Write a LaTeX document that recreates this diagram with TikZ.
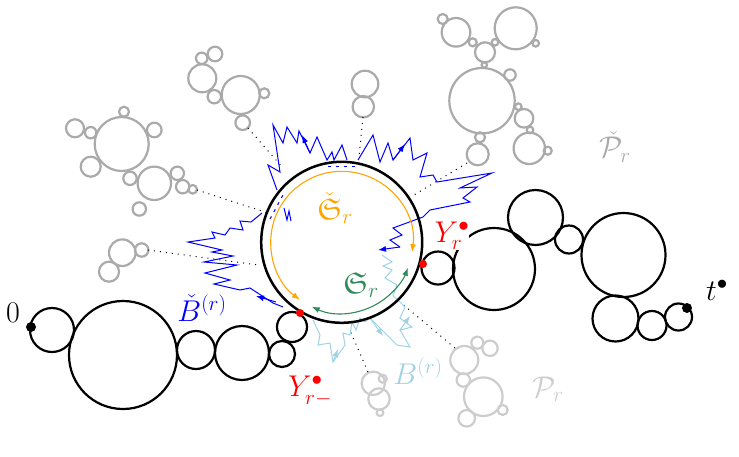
\RequirePackage{fix-cm}
\documentclass[tikz,border=0pt]{standalone}
\usepackage{amssymb}
\usetikzlibrary{arrows.meta}
\definecolor{lightwalk}{RGB}{160,210,230}
\definecolor{arcorange}{RGB}{255,165,0}
\definecolor{arcgreen}{RGB}{46,139,87}
\definecolor{treegray}{RGB}{170,170,170}
\definecolor{ptreegray}{RGB}{205,205,205}
\tikzset{
  bead/.style={draw=black, line width=2.2pt},
  twig/.style={draw=treegray, line width=2.2pt},
  ptwig/.style={draw=ptreegray, line width=2.2pt},
  walk/.style={draw=blue, line width=1pt},
  lwalk/.style={draw=lightwalk, line width=1pt},
  tether/.style={draw=black, line width=1pt, dash pattern=on 1pt off 5pt},
  lbl/.style={font=\fontsize{30}{36}\selectfont, inner sep=0pt},
  tip/.style={-{Latex[length=8pt,width=6pt]}},
}
\begin{document}
\begin{tikzpicture}[x=1pt, y=-1pt]
	\useasboundingbox (0,0) rectangle (739,456);
	% gray trees
	\foreach \x/\y/\r in {202.3/78.3/14, 201.7/58.3/5.7, 215/54/7.3, 214.3/96.7/6.7, 240.7/95/19, 264.3/93.3/5, 242.7/122.7/7.3,
		121.7/144/27, 75/128.3/9, 90.7/132.7/5.7, 124/111.7/5, 154.3/130/7.3, 90.7/166.7/10, 130/178.3/6.7, 154.3/183.3/16.7, 177.3/173.3/6.7, 182.7/186.7/6.7, 192.7/189.3/4.3, 139.3/209/6.7,
		122.3/252.7/13.3, 141.7/250/6.7, 109/271.7/10,
		365/84/13.3, 363.3/106.7/10.7,
		456/32.3/14.3, 442.7/19/5, 472.7/42.3/4, 485/52.3/10, 495/42.3/3.3, 515.7/28.3/21, 535.7/43.3/3.3, 484.3/65/2.7, 482/100.7/32.7, 510/75/5.7, 518.3/106.7/3.3, 524/118.3/9.3, 530/130/3.3, 529.3/148.3/15.7, 547.7/150.7/4, 480/137.3/5, 477.7/154.3/11}
		\draw[twig] (\x,\y) circle[radius=\r];
	\foreach \x/\y/\r in {373.3/383.3/11.7, 382.7/378.7/4, 379/399/10.7, 380/412.7/3.3,
		464.3/360/14, 477.3/342.7/6, 490/348.3/7.7, 463.3/380/6.7, 483.3/396.7/19.3, 502.7/410/5, 466.7/418.3/8.3}
		\draw[ptwig] (\x,\y) circle[radius=\r];
	% tethers
	\draw[tether] (248,128) -- (283,168);
	\draw[tether] (197,190) -- (268,213);
	\draw[tether] (148,250) -- (258,265);
	\draw[tether] (363,117) -- (359,157);
	\draw[tether] (467,163) -- (414,195);
	\draw[tether] (368,372) -- (349,328);
	\draw[tether] (455,348) -- (400,302);
	% walks outside
	\draw[walk] (277,190) -- (268,165) -- (280,172) -- (273,125) -- (283,143) -- (287,127) -- (297,143) -- (299,131) -- (310,153) -- (317,137) -- (327,160) -- (332,152) -- (334,160) -- (342,145) -- (347,160);
	\draw[walk,tip] (310,153) -- (302,135);
	\draw[walk] (358,160) -- (373,135) -- (380,162) -- (388,143) -- (393,160) -- (410,138) -- (413,160) -- (427,153) -- (420,177) -- (433,175) -- (437,182) -- (492,173) -- (460,188) -- (477,187) -- (463,198) -- (470,202) -- (430,210) -- (423,217) -- (393,228) -- (402,235) -- (390,240) -- (400,247);
	\draw[walk,tip] (400,247) -- (378,250);
	\draw[walk,tip] (393,160) -- (405,144);
	\draw[walk, dash pattern=on 3pt off 5pt] (328,166) -- (356,166);
	\draw[walk, dash pattern=on 3pt off 5pt] (270,219) -- (283,195);
	\draw[walk] (284,208) -- (287,220) -- (289,211) -- (291,221);
	\draw[walk] (262,213) -- (251,222) -- (240,221) -- (243,230) -- (230,228) -- (225,235) -- (212,232) -- (215,238) -- (188,242) -- (222,250) -- (212,252) -- (233,256) -- (204,262) -- (237,265) -- (205,273) -- (230,280) -- (214,284) -- (240,290) -- (250,288) -- (273,303) -- (283,307);
	\draw[walk,tip] (276,302) -- (256,296);
	\draw[lwalk] (313,320) -- (320,335) -- (318,345) -- (330,343) -- (333,362) -- (345,345) -- (343,333) -- (350,335) -- (352,322) -- (356,330) -- (360,318) -- (365,322) -- (370,318) -- (397,345) -- (410,347) -- (400,330) -- (412,327) -- (400,318) -- (405,307) -- (398,300) -- (393,296) -- (397,285) -- (385,278) -- (392,270) -- (383,266) -- (392,262) -- (382,255);
	\draw[lwalk,tip] (333,362) -- (338,349);
	\draw[lwalk,tip] (370,318) -- (383,336);
	\draw[lwalk,tip] (400,330) -- (410,316);
	% main loop
	\node[draw, circle, line width=2.5pt, minimum size=161, inner sep=0] (S) at (341.7,242.3) {};
	\draw[draw=arcorange, line width=1.1pt, {Latex[length=8pt,width=6pt]}-{Latex[length=8pt,width=6pt]}] (S.center) ++(8:71) arc (8:-234:71);
	\draw[draw=arcgreen, line width=1.1pt, {Latex[length=8pt,width=6pt]}-{Latex[length=8pt,width=6pt]}] (S.center) ++(115:71) arc (115:21:71);
	% chains
	\foreach \x/\y/\r in {52/330/22, 123/355/54, 196/350/19, 242/353/27, 282/354/13, 292/327/15,
		494/269/41, 535.5/217.5/27.5, 569/239.5/14, 623.5/255/42, 615.5/318.5/23, 652/325.5/14.5, 678.5/317/13.5}
		\draw[bead] (\x,\y) circle[radius=\r];
	\node[lbl, text=red, fill=white] (ylab) at (452,236) {$Y_r^{\bullet}$};
	\draw[bead] (438,268) circle[radius=16.5];
	% points
	\coordinate (yr) at (423,264);
	\coordinate (yrm) at (300,313);
	\coordinate (zero) at (31,327);
	\coordinate (tend) at (687,308);
	\fill[red] (yr) circle[radius=4];
	\fill[red] (yrm) circle[radius=4];
	\fill (zero) circle[radius=5];
	\fill (tend) circle[radius=5];
	% labels
	\node[lbl, text=arcorange] (sclab) at (335,208) {$\check{\mathfrak{S}}_r$};
	\node[lbl, text=arcgreen] (slab) at (361,285) {$\mathfrak{S}_r$};
	\node[lbl, text=red] (ymlab) at (310,391) {$Y_{r-}^{\bullet}$};
	\node[lbl, text=blue] (bclab) at (202,308) {$\check{B}^{(r)}$};
	\node[lbl, text=lightwalk] (blab) at (418,371) {$B^{(r)}$};
	\node[lbl, text=treegray] (pclab) at (615,147) {$\check{\mathcal{P}}_r$};
	\node[lbl, text=ptreegray] (plab) at (548,389) {$\mathcal{P}_r$};
	\node[lbl] (zlab) at (13,313) {$0$};
	\node[lbl] (tlab) at (717,290) {$t^{\bullet}$};
\end{tikzpicture}
\end{document}
